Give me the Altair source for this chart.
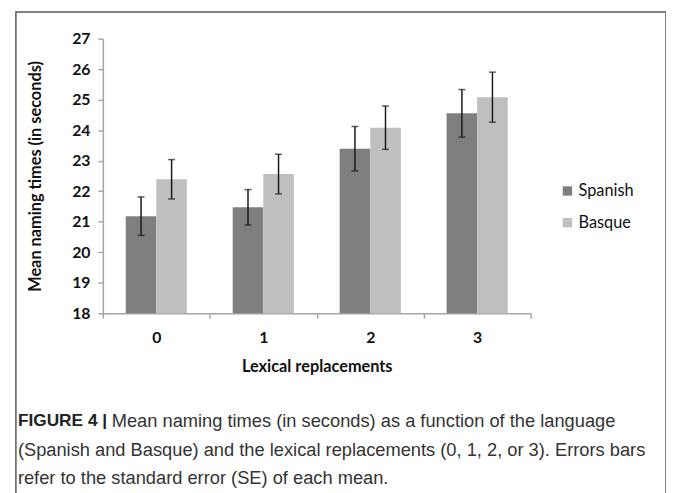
import altair as alt
import pandas as pd

categories = ["0", "1", "2", "3"]
languages = ["Spanish", "Basque"]
spanish_means = [21.18, 21.47, 23.39, 24.55]
spanish_se = [0.63, 0.58, 0.73, 0.78]
basque_means = [22.39, 22.56, 24.08, 25.08]
basque_se = [0.645, 0.65, 0.71, 0.82]
colors = ["#7f7f7f", "#bfbfbf"]
y_ticks = [18, 19, 20, 21, 22, 23, 24, 25, 26, 27]

caption_bold = "FIGURE 4 |"
caption_lines = [
    "Mean naming times (in seconds) as a function of the language",
    "(Spanish and Basque) and the lexical replacements (0, 1, 2, or 3). Errors bars",
    "refer to the standard error (SE) of each mean.",
]

rows = []
for lang, means, ses in [("Spanish", spanish_means, spanish_se), ("Basque", basque_means, basque_se)]:
    for c, m, s in zip(categories, means, ses):
        rows.append({"cat": c, "lang": lang, "mean": m, "lo": m - s, "hi": m + s})
df = pd.DataFrame(rows)

FONT = "Lato"
AX = "#a6a6a6"

x = alt.X(
    "cat:N",
    sort=categories,
    scale=alt.Scale(paddingInner=0, paddingOuter=0),
    axis=alt.Axis(
        title="Lexical replacements",
        labelAngle=0,
        tickBand="extent",
        tickSize=5,
        labelPadding=12,
        titlePadding=13,
    ),
)
xoff = alt.XOffset("lang:N", sort=languages, scale=alt.Scale(paddingInner=0, paddingOuter=0.75))
yaxis = alt.Axis(
    title="Mean naming times (in seconds)",
    values=y_ticks,
    tickSize=5,
    labelPadding=8,
    titlePadding=29,
)
yscale = alt.Scale(domain=[18, 27], nice=False, zero=False)

base = alt.Chart(df)

bars = base.mark_bar(clip=True).encode(
    x=x,
    xOffset=xoff,
    y=alt.Y("mean:Q", scale=yscale, axis=yaxis),
    color=alt.Color(
        "lang:N",
        sort=languages,
        scale=alt.Scale(domain=languages, range=colors),
        legend=alt.Legend(
            title=None,
            orient="none",
            legendX=462,
            legendY=146,
            symbolType="square",
            symbolSize=90,
            symbolStrokeWidth=0,
            labelFont=FONT,
            labelFontSize=16.5,
            labelColor="#111",
            rowPadding=15,
            labelOffset=3,
        ),
    ),
)

rule = base.mark_rule(color="#1a1a1a", strokeWidth=1.5).encode(
    x=x, xOffset=xoff, y=alt.Y("lo:Q", scale=yscale, axis=yaxis), y2="hi:Q"
)
cap_lo = base.mark_tick(color="#1a1a1a", thickness=1.5, size=7).encode(
    x=x, xOffset=xoff, y=alt.Y("lo:Q", scale=yscale, axis=yaxis)
)
cap_hi = base.mark_tick(color="#1a1a1a", thickness=1.5, size=7).encode(
    x=x, xOffset=xoff, y=alt.Y("hi:Q", scale=yscale, axis=yaxis)
)

box = alt.Chart(pd.DataFrame({"a": [0]})).mark_rect(
    fillOpacity=0, stroke="#5a5a5a", strokeWidth=1.5
).encode(x=alt.value(-88), x2=alt.value(570), y=alt.value(-27), y2=alt.value(480))

cap_font = "Liberation Sans"
cap_size = 18.5
t_bold = alt.Chart(pd.DataFrame({"t": [caption_bold]})).mark_text(
    align="left", baseline="middle", font=cap_font, fontSize=17.5, fontWeight="bold", color="#222"
).encode(x=alt.value(-86), y=alt.value(387), text="t:N")
t1 = alt.Chart(pd.DataFrame({"t": [caption_lines[0]]})).mark_text(
    align="left", baseline="middle", font=cap_font, fontSize=cap_size, color="#333"
).encode(x=alt.value(9), y=alt.value(387), text="t:N")
t2 = alt.Chart(pd.DataFrame({"t": [caption_lines[1]]})).mark_text(
    align="left", baseline="middle", font=cap_font, fontSize=cap_size, color="#333"
).encode(x=alt.value(-86), y=alt.value(416), text="t:N")
t3 = alt.Chart(pd.DataFrame({"t": [caption_lines[2]]})).mark_text(
    align="left", baseline="middle", font=cap_font, fontSize=cap_size, color="#333"
).encode(x=alt.value(-86), y=alt.value(445), text="t:N")

chart = (
    alt.layer(box, bars, rule, cap_lo, cap_hi, t_bold, t1, t2, t3)
    .properties(
        width=433,
        height=278,
        autosize=alt.AutoSizeParams(type="none"),
        padding={"left": 96, "top": 28, "right": 137, "bottom": 179},
    )
    .configure_view(stroke=None)
    .configure_axis(
        grid=False,
        domainColor=AX,
        tickColor=AX,
        domainWidth=1.5,
        tickWidth=1.5,
        labelFont=FONT,
        labelFontSize=16,
        labelFontWeight="bold",
        labelColor="#111",
        titleFont=FONT,
        titleFontSize=16.5,
        titleFontWeight="bold",
        titleColor="#111",
    )
)

chart.save("out.html", embed_options={"renderer": "svg", "actions": False})
